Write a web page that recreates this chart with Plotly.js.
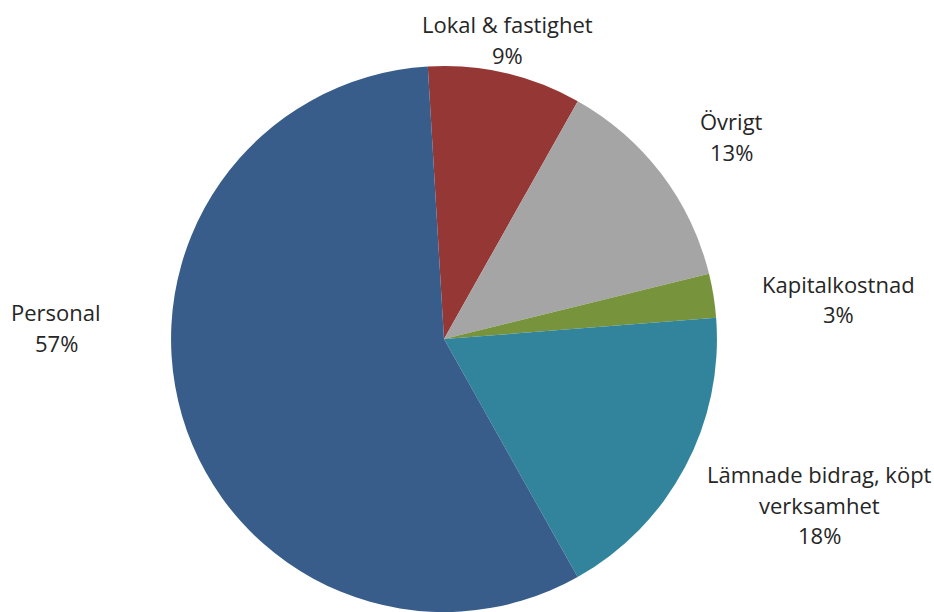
<!DOCTYPE html>
<html>
<head>
<meta charset="utf-8">
<script src="https://cdn.plot.ly/plotly-3.0.1.min.js"></script>
<style>html,body{margin:0;padding:0;background:#fff}#chart{width:934px;height:612px}</style>
</head>
<body>
<div id="chart"></div>
<script>
// Data (clockwise from just left of 12 o'clock)
var categories = ["Lokal & fastighet", "Övrigt", "Kapitalkostnad", "Lämnade bidrag, köpt verksamhet", "Personal"];
var labelLines = [["Lokal & fastighet"], ["Övrigt"], ["Kapitalkostnad"], ["Lämnade bidrag, köpt", "verksamhet"], ["Personal"]];
var values = [9.1, 13.0, 2.6, 18.1, 57.2];
var colors = ["#953735", "#A5A5A5", "#77933C", "#31849B", "#385D8A"];

var W = 934, H = 612;
// label anchor (center of first line) in pixels
var labelPos = [[507, 24], [731, 121], [838, 284], [819, 474], [56, 312]];
var lineGap = 30.5;

var total = values.reduce(function(a, b){ return a + b; }, 0);
var annotations = [];
categories.forEach(function(c, i){
  var lines = labelLines[i].concat([Math.round(values[i] / total * 100) + "%"]);
  lines.forEach(function(t, k){
    annotations.push({
      text: t, xref: "paper", yref: "paper",
      x: labelPos[i][0] / W, y: 1 - (labelPos[i][1] + k * lineGap) / H,
      xanchor: "center", yanchor: "middle", showarrow: false,
      font: {family: "'Open Sans', Lato, sans-serif", size: 22, color: "#262626"}
    });
  });
});

var trace = {
  type: "pie",
  labels: categories,
  values: values,
  sort: false,
  direction: "clockwise",
  rotation: -3.4,
  marker: {colors: colors, line: {width: 0}},
  textinfo: "none",
  hoverinfo: "label+percent",
  domain: {x: [(444 - 274) / W, (444 + 274) / W], y: [0, 0.892]},
  showlegend: false
};

Plotly.newPlot("chart", [trace], {
  width: W, height: H,
  margin: {l: 0, r: 0, t: 0, b: 0},
  paper_bgcolor: "#fff",
  annotations: annotations,
  showlegend: false
}, {displayModeBar: false, staticPlot: true});
</script>
</body>
</html>
